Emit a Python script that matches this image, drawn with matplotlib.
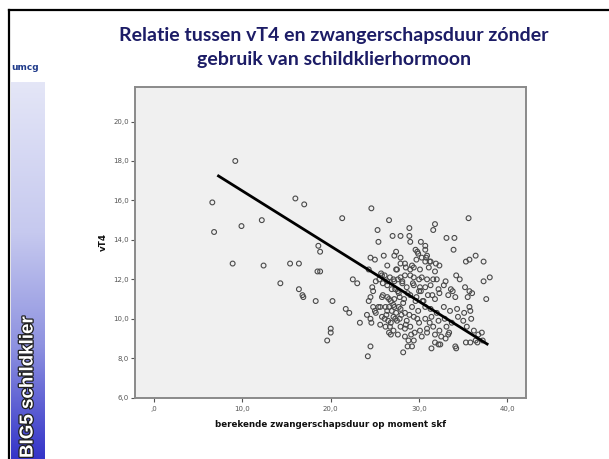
import numpy as np
import matplotlib
matplotlib.use('Agg')
import matplotlib.pyplot as plt
from matplotlib.colors import LinearSegmentedColormap
from matplotlib.lines import Line2D
import matplotlib.patheffects as pe

# gegevens (zwangerschapsduur, vT4)
duur = [9.2, 6.6, 6.8, 9.9, 12.2, 8.9, 12.4, 16.0, 17.0, 15.4, 16.4, 14.3, 16.4,
        21.3, 24.6, 26.6, 25.3, 27.0, 25.4, 18.6, 18.8, 18.5, 18.8, 22.5, 23.0,
        24.5, 25.0, 26.0, 26.4, 27.4, 27.2, 27.4, 24.3, 25.7, 16.8, 16.9, 18.3,
        20.2, 21.7, 22.1, 20.0, 20.0, 19.6, 23.3, 24.5, 24.2,
        35.6, 31.8, 31.6, 28.9, 27.9, 28.9, 33.1, 34.0, 33.9, 29.0, 30.2, 30.7,
        30.7, 29.6, 29.9, 30.3, 30.8, 31.2, 36.4, 35.7, 35.3, 37.3, 31.9, 32.3, 31.8,
        27.5, 28.5, 29.0, 29.4, 30.1, 31.1,
        27.9, 28.4, 29.2, 29.7, 30.7, 31.3, 29.8, 30.9, 27.9,
        26.1, 27.1, 27.9, 28.4, 29.0, 29.4, 30.0, 30.3, 30.9, 31.6, 32.0,
        33.0, 34.2, 34.6, 35.2, 35.7, 36.0, 37.3, 38.0, 37.6, 35.5, 33.6, 33.8, 33.3, 34.1,
        25.1, 25.5, 25.8, 25.9, 26.4, 26.7, 27.2, 27.6, 24.7, 24.8, 24.5, 24.3, 25.8,
        26.4, 26.8, 27.2, 27.8, 24.8, 25.0, 25.4, 26.2, 26.6, 26.9, 27.2, 27.7, 24.1,
        24.5, 24.6, 25.1, 25.6, 26.1, 26.3, 26.7, 26.8, 27.1, 27.5, 26.6, 27.8, 26.9, 27.6,
        26.4, 27.3, 28.1, 28.6, 29.4, 30.0, 30.7, 31.3, 32.2, 32.8,
        25.9, 26.6, 27.7, 28.3, 29.0, 29.7, 30.4, 31.0, 31.8, 32.3,
        25.6, 26.4, 27.1, 27.9, 28.4, 29.2, 29.9, 30.7, 31.3, 32.0, 32.8, 33.5, 34.3,
        25.8, 26.5, 27.3, 28.0, 28.6, 29.4, 30.0, 30.7, 31.4, 32.2, 32.9, 33.7, 34.4,
        26.2, 27.1, 27.9, 28.4, 29.0, 30.1, 30.9, 31.6, 32.3, 33.1,
        26.8, 28.4, 29.1, 30.9, 31.8, 32.5,
        35.8, 35.1, 35.9, 35.0, 35.7, 35.4, 36.2, 36.7, 37.1, 37.2, 36.4, 36.6, 35.8,
        35.3, 34.2, 33.0, 33.4, 32.2, 32.4, 31.4, 29.4, 28.7, 28.2, 28.8, 29.2, 31.8,
        34.1, 33.3,
        28.1, 28.7, 29.3, 28.2, 29.6, 30.2, 28.9, 27.4, 29.8, 30.5, 31.5, 30.1, 28.5,
        29.5, 31.2, 27.6, 30.3]
vt4 = [18.0, 15.9, 14.4, 14.7, 15.0, 12.8, 12.7, 16.1, 15.8, 12.8, 12.8, 11.8, 11.5,
       15.1, 15.6, 15.0, 14.5, 14.2, 13.9, 13.7, 13.4, 12.4, 12.4, 12.0, 11.8,
       13.1, 13.0, 13.2, 12.7, 13.4, 13.2, 12.5, 12.5, 12.3, 11.2, 11.1, 10.9,
       10.9, 10.5, 10.3, 9.5, 9.3, 8.9, 9.8, 8.6, 8.1,
       15.1, 14.8, 14.5, 14.6, 14.2, 14.2, 14.1, 14.1, 13.5, 13.9, 13.9, 13.7,
       13.5, 13.5, 13.3, 13.1, 13.1, 12.9, 13.2, 13.0, 12.9, 12.9, 12.8, 12.7, 12.4,
       12.5, 12.6, 12.5, 12.6, 12.5, 12.6,
       12.8, 12.8, 12.7, 13.0, 12.9, 12.9, 13.4, 13.2, 13.1,
       12.2, 12.0, 12.1, 12.2, 12.2, 12.1, 12.0, 12.1, 12.0, 12.0, 12.0,
       11.9, 12.2, 12.0, 11.6, 11.4, 11.3, 11.9, 12.1, 11.0, 11.1, 11.5, 11.4, 11.2, 11.1,
       11.9, 12.0, 12.2, 11.8, 11.9, 12.1, 11.9, 12.0, 11.6, 11.4, 11.1, 10.9, 11.1,
       11.1, 10.9, 11.0, 11.1, 10.6, 10.4, 10.6, 10.6, 10.6, 10.4, 10.6, 10.6, 10.2,
       10.0, 9.8, 10.3, 9.7, 10.0, 10.2, 9.6, 9.8, 10.1, 9.9, 9.3, 10.0, 11.5, 11.4,
       11.7, 11.5, 11.8, 11.6, 11.7, 11.4, 11.6, 11.7, 11.5, 11.7,
       11.2, 11.0, 11.3, 11.0, 11.2, 11.1, 10.9, 11.2, 11.0, 11.3,
       10.6, 10.4, 10.7, 10.5, 10.3, 10.6, 10.4, 10.6, 10.5, 10.3, 10.6, 10.4, 10.5,
       10.1, 9.9, 10.0, 10.2, 9.9, 10.1, 9.8, 10.0, 10.1, 9.9, 10.0, 9.8, 10.1,
       9.6, 9.4, 9.6, 9.5, 9.6, 9.4, 9.5, 9.6, 9.4, 9.6,
       9.2, 9.1, 9.2, 9.3, 9.2, 9.1,
       10.4, 10.3, 10.0, 9.9, 10.6, 9.6, 9.4, 9.2, 9.3, 8.9, 8.9, 8.8, 8.8,
       8.8, 8.5, 9.0, 9.3, 8.7, 8.7, 8.5, 8.9, 8.6, 8.3, 8.9, 8.6, 8.8,
       8.6, 9.2,
       11.9, 11.3, 11.8, 10.8, 10.9, 11.4, 10.2, 10.3, 10.0, 10.9, 11.2, 11.6, 9.7,
       9.3, 9.8, 9.2, 9.1]

# regressielijn (begin- en eindpunt)
fit_x = [7.3, 37.7]
fit_y = [17.24, 8.72]

xticks = [0, 10, 20, 30, 40]
xticklabels = [',0', '10,0', '20,0', '30,0', '40,0']
yticks = [6, 8, 10, 12, 14, 16, 18, 20]
yticklabels = ['6,0', '8,0', '10,0', '12,0', '14,0', '16,0', '18,0', '20,0']

W, H = 609, 459
fig = plt.figure(figsize=(W / 100, H / 100), dpi=100)

# zijbalk met kleurverloop
side = fig.add_axes([11 / W, 0, 34 / W, (H - 82) / H])
cm = LinearSegmentedColormap.from_list(
    'zij', [(0, '#e4e6f7'), (0.4, '#c6c9ef'), (0.7, '#8e92e0'), (1, '#3434c8')])
grad = np.linspace(0, 1, 256).reshape(-1, 1)
side.imshow(grad, aspect='auto', cmap=cm, extent=[0, 1, 1, 0])
side.set_axis_off()

fig.text(28 / W, 1 - 458 / H, 'BIG5 schildklier', rotation=90, ha='center', va='bottom',
         color='white', fontsize=13.5, fontweight='bold', family='Liberation Sans',
         path_effects=[pe.withStroke(linewidth=1.8, foreground='#202020')])
fig.text(25 / W, 1 - 68 / H, 'umcg', ha='center', va='center', color='#1f3a8a',
         fontsize=6.5, fontweight='bold')

# zwarte rand van de dia
fig.add_artist(Line2D([9 / W, 1], [1 - 10 / H, 1 - 10 / H], color='black', lw=1.6))
fig.add_artist(Line2D([9 / W, 9 / W], [0, 1 - 10 / H], color='black', lw=1.6))

# titel
fig.text(334 / W, 1 - 35 / H, 'Relatie tussen vT4 en zwangerschapsduur zónder',
         ha='center', va='center', color='#1c1c66', fontsize=14, fontweight='bold', family='Lato')
fig.text(334 / W, 1 - 59 / H, 'gebruik van schildklierhormoon',
         ha='center', va='center', color='#1c1c66', fontsize=14, fontweight='bold', family='Lato')

ax = fig.add_axes([135 / W, 1 - 397.7 / H, 391 / W, (397.7 - 87) / H])
ax.set_facecolor('#f0f0f0')
ax.scatter(duur, vt4, s=12, facecolors='none', edgecolors='#4a4a4a', linewidths=0.8, zorder=3)
ax.plot(fit_x, fit_y, color='black', lw=2.0, zorder=4)

ax.set_xlim(-2.15, 42.1)
ax.set_ylim(6, 21.75)
ax.set_xticks(xticks)
ax.set_xticklabels(xticklabels)
ax.set_yticks(yticks)
ax.set_yticklabels(yticklabels)
ax.tick_params(axis='both', labelsize=5, colors='#555555', length=3, width=0.8)
ax.tick_params(axis='x', pad=3)
ax.tick_params(axis='y', pad=1.5)
for s in ax.spines.values():
    s.set_color('#8a8a8a')
    s.set_linewidth(1.4)

ax.set_xlabel('berekende zwangerschapsduur op moment skf', fontsize=6.3, fontweight='bold',
              color='#111111', labelpad=6)
ax.set_ylabel('vT4', fontsize=6.3, fontweight='bold', color='#111111', labelpad=4)

fig.savefig('out.png', dpi=100)
